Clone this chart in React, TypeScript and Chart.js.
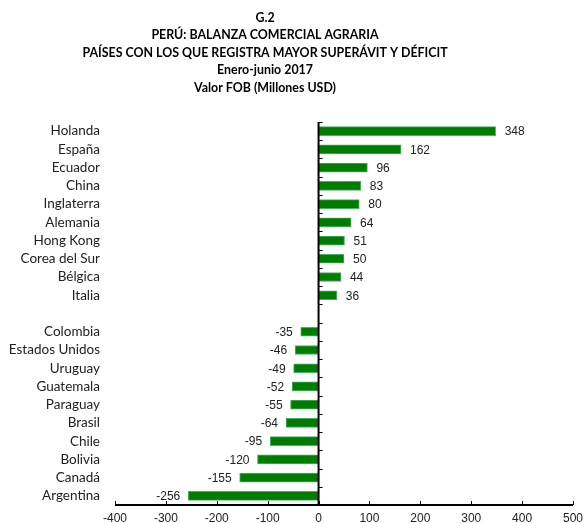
import React, { useEffect, useRef } from "react";
import { Chart, registerables } from "chart.js";

Chart.register(...registerables);

const titleLines = [
  "G.2",
  "PERÚ: BALANZA COMERCIAL AGRARIA",
  "PAÍSES CON LOS QUE REGISTRA MAYOR SUPERÁVIT Y DÉFICIT",
  "Enero-junio 2017",
  "Valor FOB (Millones USD)",
];

const countries = [
  "Holanda", "España", "Ecuador", "China", "Inglaterra", "Alemania", "Hong Kong",
  "Corea del Sur", "Bélgica", "Italia", "",
  "Colombia", "Estados Unidos", "Uruguay", "Guatemala", "Paraguay", "Brasil",
  "Chile", "Bolivia", "Canadá", "Argentina",
];

const balance: (number | null)[] = [
  348, 162, 96, 83, 80, 64, 51, 50, 44, 36, null,
  -35, -46, -49, -52, -55, -64, -95, -120, -155, -256,
];

const xTicks = [-400, -300, -200, -100, 0, 100, 200, 300, 400, 500];

const decorPlugin = {
  id: "decor",
  beforeDraw(chart: any) {
    const ctx = chart.ctx;
    ctx.save();
    ctx.fillStyle = "#fff";
    ctx.fillRect(0, 0, chart.width, chart.height);
    ctx.fillStyle = "#000";
    ctx.font = "bold 12.4px Lato, 'Open Sans', sans-serif";
    ctx.textAlign = "center";
    ctx.textBaseline = "middle";
    titleLines.forEach((t, i) => {
      ctx.fillText(t, 265, 18 + i * 17.4);
    });
    ctx.restore();
  },
  afterDatasetsDraw(chart: any) {
    const ctx = chart.ctx;
    const xs = chart.scales.x;
    const ys = chart.scales.y;
    const area = chart.chartArea;
    const x0 = xs.getPixelForValue(0);
    ctx.save();
    ctx.strokeStyle = "#000";
    ctx.lineWidth = 2;
    ctx.beginPath();
    ctx.moveTo(x0, area.top);
    ctx.lineTo(x0, area.bottom);
    ctx.stroke();
    ctx.lineWidth = 1;
    const n = countries.length;
    const step = (area.bottom - area.top) / n;
    for (let i = 0; i < n; i++) {
      const y = Math.round(area.top + i * step) + 0.5;
      ctx.beginPath();
      ctx.moveTo(x0, y);
      ctx.lineTo(x0 + 4, y);
      ctx.stroke();
    }
    ctx.lineWidth = 2;
    ctx.beginPath();
    ctx.moveTo(area.left, area.bottom);
    ctx.lineTo(area.right, area.bottom);
    ctx.stroke();
    ctx.lineWidth = 1;
    xTicks.forEach((v) => {
      const x = Math.round(xs.getPixelForValue(v)) + 0.5;
      ctx.beginPath();
      ctx.moveTo(x, area.bottom);
      ctx.lineTo(x, area.bottom - 4);
      ctx.stroke();
    });
    ctx.fillStyle = "#222";
    ctx.font = "12px 'Liberation Sans', Arial, sans-serif";
    ctx.textBaseline = "middle";
    balance.forEach((v, i) => {
      if (v === null) return;
      const y = ys.getPixelForValue(i);
      const x = xs.getPixelForValue(v);
      if (v >= 0) {
        ctx.textAlign = "left";
        ctx.fillText(String(v), x + 9, y + 1);
      } else {
        ctx.textAlign = "right";
        ctx.fillText(String(v), x - 8, y + 1);
      }
    });
    ctx.restore();
  },
};

export default function App() {
  const ref = useRef<HTMLCanvasElement>(null);
  useEffect(() => {
    if (!ref.current) return;
    const chart = new Chart(ref.current, {
      type: "bar",
      data: {
        labels: countries,
        datasets: [
          {
            data: balance,
            backgroundColor: "#007d00",
            borderColor: "#4cae6c",
            borderWidth: 1,
            borderSkipped: false,
            barThickness: 9,
          },
        ],
      },
      options: {
        indexAxis: "y",
        animation: false,
        responsive: false,
        maintainAspectRatio: false,
        layout: { padding: { top: 122, right: 16, left: 0, bottom: 0 } },
        plugins: {
          legend: { display: false },
          title: { display: false },
          tooltip: { enabled: false },
        },
        scales: {
          x: {
            type: "linear",
            min: -400,
            max: 500,
            afterBuildTicks: (s: any) => {
              s.ticks = xTicks.map((v) => ({ value: v }));
            },
            afterFit: (s: any) => {
              s.height = 18;
            },
            grid: { display: false, drawTicks: false },
            border: { display: false },
            ticks: {
              color: "#222",
              padding: 6,
              font: { family: "'Liberation Sans', Arial, sans-serif", size: 12 },
            },
          },
          y: {
            type: "category",
            grid: {
              display: true,
              drawOnChartArea: false,
              drawTicks: true,
              tickLength: 15,
              color: "rgba(0,0,0,0)",
            },
            border: { display: false },
            afterFit: (s: any) => {
              s.width = 115;
            },
            ticks: {
              color: "#222",
              padding: 0,
              autoSkip: false,
              font: { family: "Lato, 'Open Sans', sans-serif", size: 13.5 },
            },
          },
        },
      },
      plugins: [decorPlugin],
    });
    return () => chart.destroy();
  }, []);
  return (
    <div style={{ position: "absolute", left: 0, top: 0, width: 587, height: 523, overflow: "hidden" }}>
      <canvas ref={ref} width={589} height={523} style={{ display: "block" }} />
    </div>
  );
}
